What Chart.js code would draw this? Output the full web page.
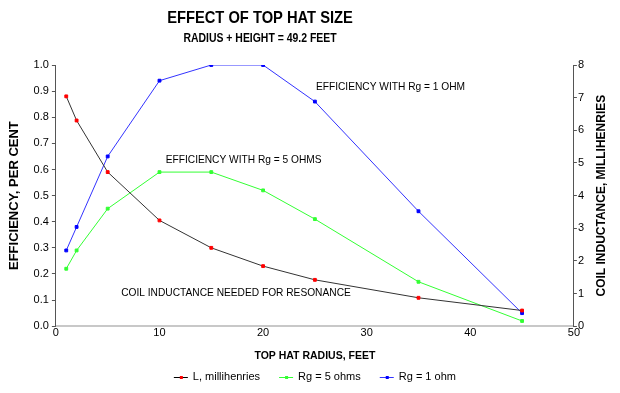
<!DOCTYPE html>
<html>
<head>
<meta charset="utf-8">
<script src="https://cdn.jsdelivr.net/npm/chart.js@4"></script>
<style>
  html, body { margin: 0; padding: 0; background: #fff; }
  #wrap { width: 620px; height: 393px; }
</style>
</head>
<body>
<div id="wrap"><canvas id="topHat"></canvas></div>
<script>
// top hat radius, feet
const radius = [1, 2, 5, 10, 15, 20, 25, 35, 45];
// coil inductance, millihenries (right axis)
const inductance = [7.04, 6.3, 4.72, 3.24, 2.4, 1.84, 1.42, 0.87, 0.48];
// efficiency with Rg = 5 ohms
const eff5 = [0.22, 0.29, 0.45, 0.59, 0.59, 0.52, 0.41, 0.17, 0.02];
// efficiency with Rg = 1 ohm
const eff1 = [0.29, 0.38, 0.65, 0.94, 1.0, 1.0, 0.86, 0.44, 0.05];

const seriesNames = ["L, millihenries", "Rg = 5 ohms", "Rg = 1 ohm"];
const noteTexts = ["EFFICIENCY WITH Rg = 1 OHM", "EFFICIENCY WITH Rg = 5 OHMS", "COIL INDUCTANCE NEEDED FOR RESONANCE"];
// where each note sits, in data units (x radius, y efficiency)
const noteAt = [[25.1, 0.915], [10.6, 0.635], [6.3, 0.127]];

const FONT = "'Liberation Sans', Arial, sans-serif";

function pts(ys) {
  return radius.map((x, i) => ({ x: x, y: ys[i] }));
}

// condensed bold text, like the original's heading font
function squeezed(ctx, text, x, y, size, squeeze) {
  ctx.save();
  ctx.translate(x, y);
  ctx.scale(squeeze, 1);
  ctx.font = "bold " + size + "px " + FONT;
  ctx.fillText(text, 0, 0);
  ctx.restore();
}

// titles, right axis title, notes and the legend
const textPlugin = {
  id: 'texts',
  afterDraw(chart) {
    const ctx = chart.ctx;
    const xs = chart.scales.x, ys = chart.scales.y;
    const area = chart.chartArea;
    ctx.save();
    ctx.fillStyle = "#000";
    ctx.textBaseline = "middle";
    ctx.textAlign = "center";
    squeezed(ctx, "EFFECT OF TOP HAT SIZE", 260, 18, 17, 0.865);
    squeezed(ctx, "RADIUS + HEIGHT = 49.2 FEET", 260, 39, 12, 0.87);

    ctx.save();
    ctx.translate(602, (area.top + area.bottom) / 2);
    ctx.rotate(-Math.PI / 2);
    ctx.font = "bold 12px " + FONT;
    ctx.fillText("COIL INDUCTANCE, MILLIHENRIES", 0, 0);
    ctx.restore();

    ctx.textAlign = "left";
    ctx.font = "10.2px " + FONT;
    noteTexts.forEach((t, i) => {
      ctx.fillText(t, xs.getPixelForValue(noteAt[i][0]), ys.getPixelForValue(noteAt[i][1]));
    });

    // legend
    ctx.font = "11px " + FONT;
    const dsets = chart.data.datasets;
    const widths = dsets.map(ds => 19 + ctx.measureText(ds.label).width);
    const total = widths.reduce((a, b) => a + b, 0) + 19 * (dsets.length - 1);
    let lx = (area.left + area.right) / 2 - total / 2;
    const ly = 377;
    dsets.forEach((ds, i) => {
      ctx.strokeStyle = i === 0 ? "#000" : ds.borderColor;
      ctx.lineWidth = 1;
      ctx.beginPath(); ctx.moveTo(lx, ly + 0.5); ctx.lineTo(lx + 14, ly + 0.5); ctx.stroke();
      ctx.fillStyle = ds.pointBackgroundColor;
      ctx.fillRect(lx + 6, ly - 1, 3, 3);
      ctx.fillStyle = "#000";
      ctx.fillText(ds.label, lx + 19, ly);
      lx += widths[i] + 19;
    });
    ctx.restore();
  }
};

let myChart = new Chart(document.getElementById('topHat'), {
  type: 'line',
  data: {
    datasets: [{
      label: seriesNames[0],
      data: pts(inductance),
      yAxisID: 'y2',
      borderColor: "#333333",
      pointBackgroundColor: "#ff0000",
      pointBorderColor: "#ff0000",
      borderWidth: 1,
      pointStyle: 'rect',
      pointRadius: 2,
      tension: 0
    }, {
      label: seriesNames[1],
      data: pts(eff5),
      yAxisID: 'y',
      borderColor: "#33ff33",
      pointBackgroundColor: "#33ff33",
      pointBorderColor: "#33ff33",
      borderWidth: 1,
      pointStyle: 'rect',
      pointRadius: 2,
      tension: 0
    }, {
      label: seriesNames[2],
      data: pts(eff1),
      yAxisID: 'y',
      borderColor: "#3333ff",
      pointBackgroundColor: "#0000ff",
      pointBorderColor: "#0000ff",
      borderWidth: 1,
      pointStyle: 'rect',
      pointRadius: 2,
      tension: 0
    }]
  },
  options: {
    responsive: true,
    maintainAspectRatio: false,
    animation: false,
    layout: { padding: { left: 7, right: 35, top: 65, bottom: 31 } },
    plugins: {
      title: { display: false },
      legend: { display: false },
      tooltip: { enabled: false }
    },
    scales: {
      x: {
        type: 'linear',
        min: 0,
        max: 50,
        ticks: { stepSize: 10, color: "#000", font: { family: FONT, size: 11 }, padding: 0 },
        grid: { display: false, drawTicks: false },
        border: { color: "#c8c8c8", width: 2 },
        title: {
          display: true,
          text: "TOP HAT RADIUS, FEET",
          color: "#000",
          font: { family: FONT, size: 10.5, weight: 'bold' },
          padding: { top: 10, bottom: 0 }
        }
      },
      y: {
        position: 'left',
        min: 0,
        max: 1,
        ticks: {
          stepSize: 0.1,
          color: "#000",
          font: { family: FONT, size: 11 },
          callback: v => v.toFixed(1),
          padding: 3
        },
        grid: { display: true, drawOnChartArea: false, tickLength: 4, color: "#555" },
        border: { color: "#555555", width: 1 },
        title: {
          display: true,
          text: "EFFICIENCY, PER CENT",
          color: "#000",
          font: { family: FONT, size: 13, weight: 'bold' },
          padding: { top: 0, bottom: 8 }
        }
      },
      y2: {
        position: 'right',
        min: 0,
        max: 8,
        ticks: { stepSize: 1, color: "#000", font: { family: FONT, size: 11 }, padding: 1 },
        grid: { display: true, drawOnChartArea: false, tickLength: 3, color: "#555" },
        border: { color: "#555555", width: 1 }
      }
    }
  },
  plugins: [textPlugin]
});
</script>
</body>
</html>
